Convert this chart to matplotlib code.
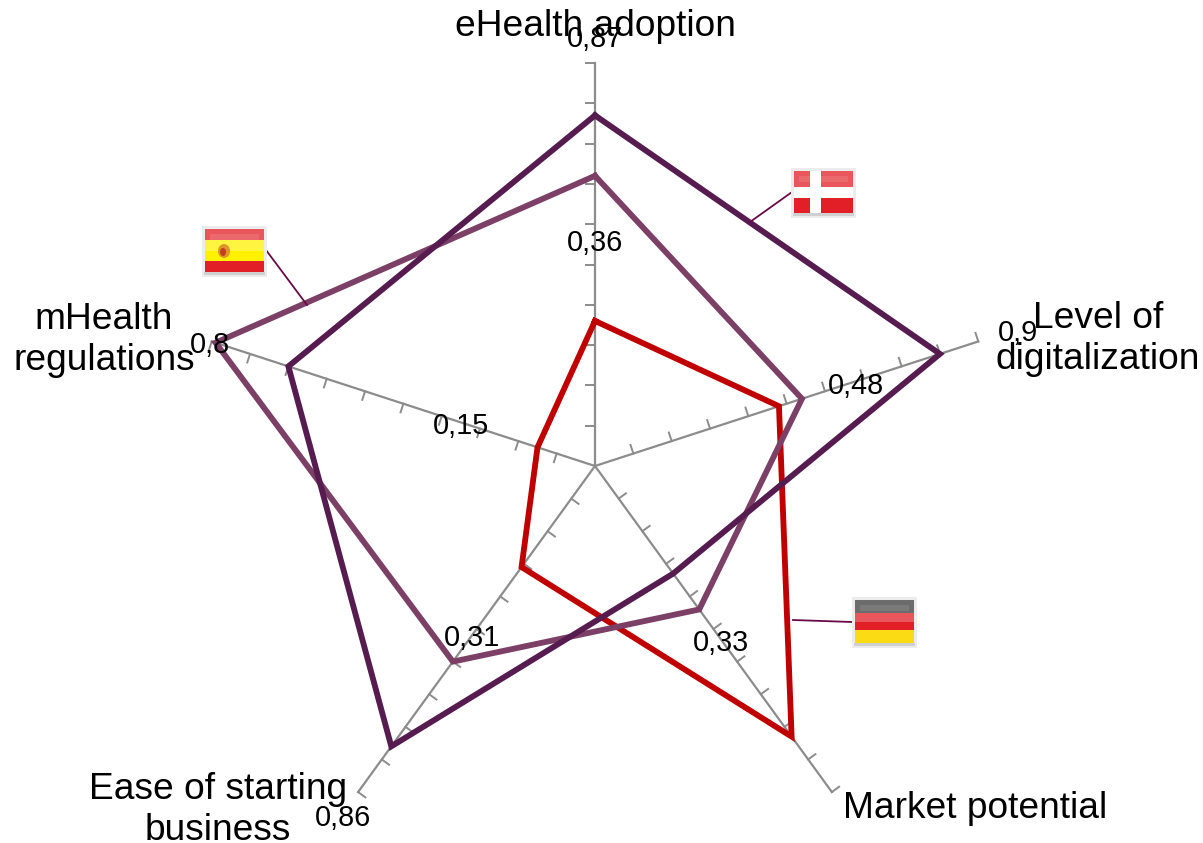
import numpy as np
import matplotlib
matplotlib.use('Agg')
import matplotlib.pyplot as plt
from matplotlib.patches import Rectangle, Ellipse

plt.rcParams['font.family'] = ['Liberation Sans', 'DejaVu Sans']

categories = ['eHealth adoption', 'Level of\ndigitalization', 'Market potential',
              'Ease of starting\nbusiness', 'mHealth\nregulations']
denmark = [0.87, 0.90, 0.33, 0.86, 0.80]
spain = [0.72, 0.54, 0.44, 0.60, 0.99]
germany = [0.36, 0.48, 0.83, 0.31, 0.15]
tick_values = [0.1, 0.2, 0.3, 0.4, 0.5, 0.6, 0.7, 0.8, 0.9, 1.0]
value_labels = ['0,87', '0,9', '0,33', '0,86', '0,8', '0,36', '0,48', '0,31', '0,15']

W, H = 1203, 843
cx, cy, R = 595, 466, 403
GREY = '#8c8c8c'
LEADER = '#6a0a44'

fig = plt.figure(figsize=(W / 100, H / 100), dpi=100)
ax = fig.add_axes([(cx - R) / W, (H - cy - R) / H, 2 * R / W, 2 * R / H], projection='polar')
ax.set_theta_zero_location('N')
ax.set_theta_direction(-1)
ax.set_ylim(0, 1)
ax.axis('off')

angles = np.arange(5) * 2 * np.pi / 5

# spokes and tick marks, ticks sit on the counter-clockwise side
tick_len = 9 / R
for a in angles:
    ax.plot([a, a], [0, 1], color=GREY, lw=1.6, clip_on=False, zorder=1)
    for v in tick_values:
        ax.plot([a, a - np.arctan(tick_len / v)], [v, np.hypot(v, tick_len)],
                color=GREY, lw=1.4, clip_on=False, zorder=1)

closed = np.append(angles, angles[0])
for vals, col, z in [(germany, '#c00000', 3), (spain, '#7c3f66', 4), (denmark, '#561c50', 5)]:
    ax.plot(closed, vals + vals[:1], color=col, lw=4.2, clip_on=False, zorder=z,
            solid_joinstyle='miter')

# overlay in pixels for labels, flags and leader lines
ov = fig.add_axes([0, 0, 1, 1])
ov.set_xlim(0, W)
ov.set_ylim(H, 0)
ov.axis('off')
ov.patch.set_alpha(0)


def flag(x0, y0, x1, y1, bands):
    ov.add_patch(Rectangle((x0 - 3, y0 - 3), x1 - x0 + 6, y1 - y0 + 8, color='#ececec', lw=0, zorder=6))
    ov.add_patch(Rectangle((x0 - 1, y1), x1 - x0 + 2, 3, color='#d0d0d0', lw=0, zorder=6))
    for top, bottom, c in bands:
        ov.add_patch(Rectangle((x0, top), x1 - x0, bottom - top, color=c, lw=0, zorder=7))


def gloss(x0, y0, x1, y1):
    ov.add_patch(Rectangle((x0, y0), x1 - x0, (y1 - y0) * 0.5, color='white', alpha=0.25, lw=0, zorder=9))
    ov.add_patch(Rectangle((x0 + 5, y0 + 5), x1 - x0 - 10, 6, color='white', alpha=0.1, lw=0, zorder=9))


ov.plot([750, 792], [222, 192], color=LEADER, lw=1.3, zorder=6)
ov.plot([266, 307], [250, 305], color=LEADER, lw=1.3, zorder=6)
ov.plot([793, 852], [620, 622], color=LEADER, lw=1.3, zorder=6)

flag(794, 171, 853, 213, [(171, 213, '#e21f26')])
gloss(794, 171, 853, 213)
ov.add_patch(Rectangle((810, 171), 11, 42, color='white', lw=0, zorder=10))
ov.add_patch(Rectangle((794, 187), 59, 11, color='white', lw=0, zorder=10))

flag(205, 229, 264, 272, [(229, 240, '#e21f26'), (240, 261, '#fff100'), (261, 272, '#e21f26')])
gloss(205, 229, 264, 272)
ov.add_patch(Ellipse((224, 251), 12, 14, color='#e0952a', lw=0, zorder=10))
ov.add_patch(Ellipse((223, 252), 6, 8, color='#c2401f', lw=0, zorder=10))

flag(855, 600, 914, 643, [(600, 613, '#3c3c3c'), (613, 630, '#e21f26'), (630, 643, '#fbdc14')])
gloss(855, 600, 914, 643)

cat_pos = [(595, 27), (1098, 339), (975, 809), (218, 810), (104, 340)]
for (x, y), s in zip(cat_pos, categories):
    ov.text(x, y, s, fontsize=26.7, ha='center', va='center', color='black', zorder=11,
            linespacing=1.22)

val_pos = [(595, 39), (1018, 333), (721, 643), (343, 818), (210, 345),
           (595, 243), (856, 386), (472, 638), (461, 426)]
for (x, y), s in zip(val_pos, value_labels):
    ov.text(x, y, s, fontsize=20.8, ha='center', va='center', color='black', zorder=12)

fig.savefig('out.png', dpi=100)
